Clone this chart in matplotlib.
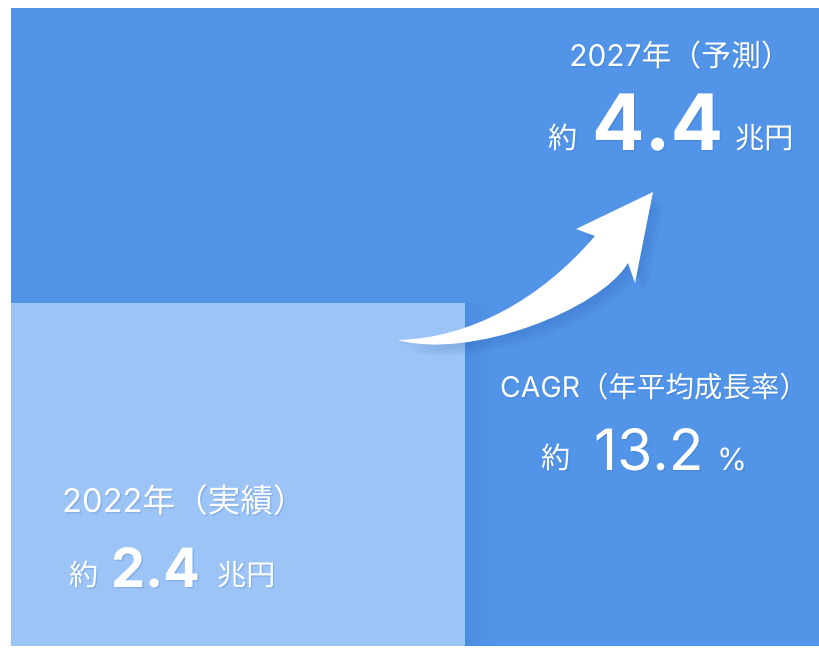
import matplotlib
matplotlib.use("Agg")
import matplotlib.pyplot as plt
import matplotlib.patheffects as pe
from matplotlib.path import Path
from matplotlib.patches import PathPatch, Rectangle

plt.rcParams['font.family'] = ['Inter', 'Noto Sans CJK JP', 'DejaVu Sans']

# data
years = ["2022年（実績）", "2027年（予測）"]
market = [2.4, 4.4]          # 兆円
cagr = 13.2                  # %

W, H = 820, 649
DARK = "#5294E8"
LIGHT = "#9CC4F6"


def px(x, y):
    # pixel position (from top-left) -> figure fraction
    return x / W, 1 - y / H


fig = plt.figure(figsize=(W / 100, H / 100), dpi=100)
# axes runs a little below the visible panel, panel is cut at y=646
ax = fig.add_axes([11 / W, -8 / H, 809 / W, 649 / H])
ax.set_xlim(0, 1)
ax.set_ylim(0, max(market))
ax.axis("off")

# 2027 bar covers the whole width, 2022 bar sits in front on the left
ax.bar(0, market[1], width=1.0, align="edge", color=DARK, zorder=1)
ax.bar(0, market[0], width=0.561, align="edge", color=LIGHT, zorder=3)

# soft shadow right of the 2022 bar
for i in range(12):
    ax.add_patch(Rectangle((0.561 + i * 0.003, 0), 0.003, market[0],
                           color="#1d4f9a", alpha=0.11 * (1 - i / 12) ** 1.5,
                           lw=0, zorder=2))

# white strip under the panel
fig.add_artist(Rectangle((0, 0), 1, 3 / H, transform=fig.transFigure,
                         color="white", lw=0, zorder=20))

# curved arrow (pixel outline -> figure fraction)
pts = [(398, 340),
       (470, 338), (540, 300), (595, 236),
       (576, 229), (653, 192), (635, 283), (628, 263),
       (600, 310), (470, 360), (398, 340),
       (398, 340)]
codes = [Path.MOVETO,
         Path.CURVE4, Path.CURVE4, Path.CURVE4,
         Path.LINETO, Path.LINETO, Path.LINETO, Path.LINETO,
         Path.CURVE4, Path.CURVE4, Path.CURVE4,
         Path.CLOSEPOLY]
arrow = PathPatch(Path([px(*p) for p in pts], codes), transform=fig.transFigure,
                  facecolor="white", edgecolor="none", zorder=5)
arrow.set_path_effects([pe.SimplePatchShadow(offset=(o, -o), shadow_rgbFace="#1d4f9a", alpha=0.05)
                        for o in (2, 4, 6, 8)] + [pe.Normal()])
fig.add_artist(arrow)

shadow = [pe.SimplePatchShadow(offset=(1, -1), shadow_rgbFace="#2a5fa8", alpha=0.2), pe.Normal()]


def put(x, y, s, size, ha="left", weight="normal"):
    fig.text(*px(x, y), s, fontsize=size, ha=ha, va="baseline", color="white",
             fontweight=weight, zorder=10, path_effects=shadow)


# 2027
put(680, 66, years[1], 21.5, ha="center")
put(548, 148, "約", 21)
put(592, 150, f"{market[1]}", 56, weight="bold")
put(735, 148, "兆円", 21)

# CAGR
put(654, 397, "CAGR（年平均成長率）", 20.5, ha="center")
put(541, 468, "約", 21)
put(594, 470, f"{cagr}", 41)
put(717, 470, "%", 22)

# 2022
put(184, 512, years[0], 23.5, ha="center")
put(69, 585, "約", 21)
put(111, 587, f"{market[0]}", 39, weight="bold")
put(217, 585, "兆円", 21)

fig.savefig("out.png", dpi=100)
